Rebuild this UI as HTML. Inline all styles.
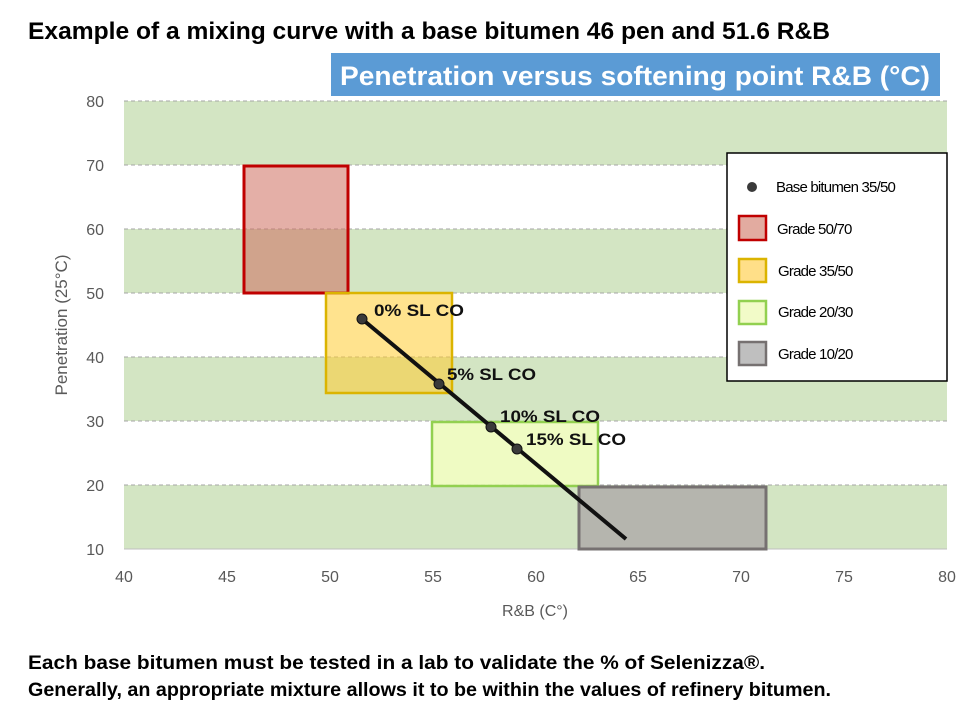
<!DOCTYPE html>
<html><head><style>body{margin:0;background:#fff}svg{display:block}</style></head><body>
<svg width="960" height="726" xmlns="http://www.w3.org/2000/svg" font-family="Liberation Sans, sans-serif">
<rect width="960" height="726" fill="#fff"/>
<text x="28" y="39" font-size="24" font-weight="bold" textLength="802" lengthAdjust="spacingAndGlyphs">Example of a mixing curve with a base bitumen 46 pen and 51.6 R&amp;B</text>
<rect x="331" y="53" width="609" height="43" fill="#5b9bd5"/>
<text x="340" y="85" font-size="27" font-weight="bold" fill="#fff" textLength="590" lengthAdjust="spacingAndGlyphs">Penetration versus softening point R&amp;B (°C)</text>
<g fill="#d3e5c3">
<rect x="124" y="101" width="823" height="64"/>
<rect x="124" y="229" width="823" height="64"/>
<rect x="124" y="357" width="823" height="64"/>
<rect x="124" y="485" width="823" height="64"/>
</g>
<g stroke="#a6a6a6" stroke-dasharray="4,3" stroke-width="1">
<line x1="124" y1="101" x2="947" y2="101"/><line x1="124" y1="165" x2="947" y2="165"/>
<line x1="124" y1="229" x2="947" y2="229"/><line x1="124" y1="293" x2="947" y2="293"/>
<line x1="124" y1="357" x2="947" y2="357"/><line x1="124" y1="421" x2="947" y2="421"/>
<line x1="124" y1="485" x2="947" y2="485"/>
</g>
<line x1="124" y1="549" x2="947" y2="549" stroke="#bfbfbf"/>
<g font-size="16" fill="#595959" text-anchor="end">
<text x="104" y="107">80</text><text x="104" y="171">70</text><text x="104" y="235">60</text>
<text x="104" y="299">50</text><text x="104" y="363">40</text><text x="104" y="427">30</text>
<text x="104" y="491">20</text><text x="104" y="555">10</text>
</g>
<g font-size="16" fill="#595959" text-anchor="middle">
<text x="124" y="582">40</text><text x="227" y="582">45</text><text x="330" y="582">50</text>
<text x="433" y="582">55</text><text x="536" y="582">60</text><text x="638" y="582">65</text>
<text x="741" y="582">70</text><text x="844" y="582">75</text><text x="947" y="582">80</text>
<text x="535" y="616">R&amp;B (C°)</text>
<text transform="translate(67,325) rotate(-90)" font-size="17">Penetration (25°C)</text>
</g>
<rect x="244" y="166" width="104" height="127" fill="rgba(205,110,95,0.55)" stroke="#c00000" stroke-width="3"/>
<rect x="326" y="293" width="126" height="100" fill="rgba(255,204,50,0.55)" stroke="#dbb400" stroke-width="2.5"/>
<rect x="432" y="422" width="166" height="64" fill="rgba(235,250,180,0.8)" stroke="#92d050" stroke-width="2.5"/>
<rect x="579" y="487" width="187" height="62" fill="#b5b5ae" stroke="#767171" stroke-width="3"/>
<line x1="362" y1="319" x2="626" y2="539" stroke="#111" stroke-width="4"/>
<g fill="#3a3a3a" stroke="#111" stroke-width="1">
<circle cx="362" cy="319" r="5"/><circle cx="439" cy="384" r="5"/>
<circle cx="491" cy="427" r="5"/><circle cx="517" cy="449" r="5"/>
</g>
<g font-size="17" font-weight="bold" fill="#111">
<text x="374" y="316" textLength="90" lengthAdjust="spacingAndGlyphs">0% SL CO</text>
<text x="447" y="380" textLength="89" lengthAdjust="spacingAndGlyphs">5% SL CO</text>
<text x="500" y="422" textLength="100" lengthAdjust="spacingAndGlyphs">10% SL CO</text>
<text x="526" y="445" textLength="100" lengthAdjust="spacingAndGlyphs">15% SL CO</text>
</g>
<rect x="727" y="153" width="220" height="228" fill="#fff" stroke="#000" stroke-width="1.5"/>
<circle cx="752" cy="187" r="5" fill="#3a3a3a"/>
<g font-size="15" fill="#000" letter-spacing="-0.8">
<text x="776" y="192">Base bitumen 35/50</text>
<text x="777" y="234">Grade 50/70</text>
<text x="778" y="276">Grade 35/50</text>
<text x="778" y="317">Grade 20/30</text>
<text x="778" y="359">Grade 10/20</text>
</g>
<rect x="739" y="216" width="27" height="24" fill="#e2aba0" stroke="#c00000" stroke-width="2.5"/>
<rect x="739" y="259" width="27" height="23" fill="#ffdf88" stroke="#dbb400" stroke-width="2.5"/>
<rect x="739" y="301" width="27" height="23" fill="#f2fbc8" stroke="#92d050" stroke-width="2.5"/>
<rect x="739" y="342" width="27" height="23" fill="#bfbfbf" stroke="#767171" stroke-width="2.5"/>
<text x="28" y="669" font-size="19" font-weight="bold" textLength="737" lengthAdjust="spacingAndGlyphs">Each base bitumen must be tested in a lab to validate the % of Selenizza®.</text>
<text x="28" y="696" font-size="19" font-weight="bold" textLength="803" lengthAdjust="spacingAndGlyphs">Generally, an appropriate mixture allows it to be within the values of refinery bitumen.</text>
</svg>
</body></html>
